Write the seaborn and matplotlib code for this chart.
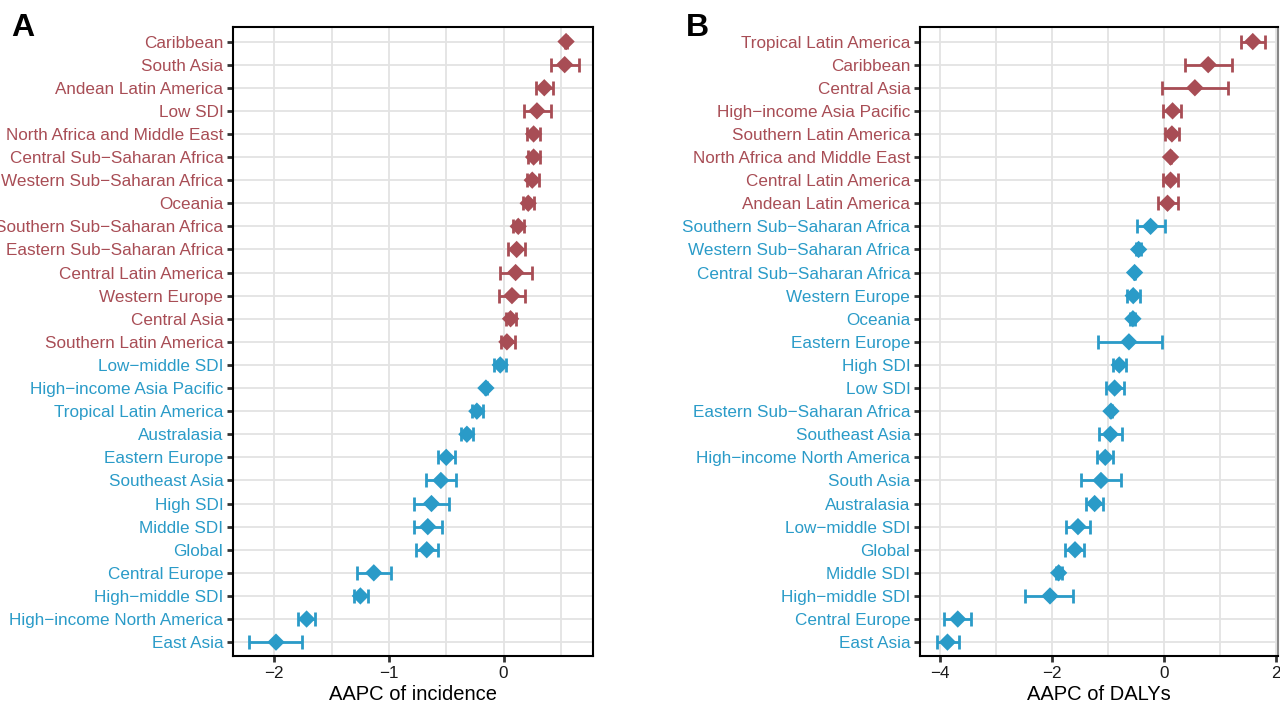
import numpy as np
import pandas as pd
import seaborn as sns
import matplotlib
matplotlib.use("Agg")
import matplotlib.pyplot as plt

# panel A: AAPC of incidence
inc_region = ["Caribbean", "South Asia", "Andean Latin America", "Low SDI",
              "North Africa and Middle East", "Central Sub\u2212Saharan Africa",
              "Western Sub\u2212Saharan Africa", "Oceania",
              "Southern Sub\u2212Saharan Africa", "Eastern Sub\u2212Saharan Africa",
              "Central Latin America", "Western Europe", "Central Asia",
              "Southern Latin America", "Low\u2212middle SDI",
              "High\u2212income Asia Pacific", "Tropical Latin America",
              "Australasia", "Eastern Europe", "Southeast Asia", "High SDI",
              "Middle SDI", "Global", "Central Europe", "High\u2212middle SDI",
              "High\u2212income North America", "East Asia"]
inc_val = [0.545, 0.533, 0.355, 0.291, 0.262, 0.262, 0.250, 0.215, 0.128, 0.114,
           0.105, 0.073, 0.061, 0.029, -0.029, -0.154, -0.233, -0.320, -0.500,
           -0.547, -0.629, -0.661, -0.670, -1.132, -1.249, -1.718, -1.985]
inc_lo = [0.538, 0.416, 0.285, 0.180, 0.207, 0.215, 0.204, 0.169, 0.082, 0.040,
          -0.030, -0.038, 0.017, -0.023, -0.080, -0.162, -0.277, -0.367, -0.570,
          -0.678, -0.780, -0.780, -0.766, -1.278, -1.304, -1.796, -2.221]
inc_hi = [0.552, 0.655, 0.431, 0.410, 0.320, 0.314, 0.306, 0.268, 0.180, 0.190,
          0.245, 0.190, 0.110, 0.096, 0.023, -0.146, -0.183, -0.268, -0.428,
          -0.416, -0.472, -0.541, -0.568, -0.984, -1.182, -1.642, -1.755]

# panel B: AAPC of DALYs
daly_region = ["Tropical Latin America", "Caribbean", "Central Asia",
               "High\u2212income Asia Pacific", "Southern Latin America",
               "North Africa and Middle East", "Central Latin America",
               "Andean Latin America", "Southern Sub\u2212Saharan Africa",
               "Western Sub\u2212Saharan Africa", "Central Sub\u2212Saharan Africa",
               "Western Europe", "Oceania", "Eastern Europe", "High SDI",
               "Low SDI", "Eastern Sub\u2212Saharan Africa", "Southeast Asia",
               "High\u2212income North America", "South Asia", "Australasia",
               "Low\u2212middle SDI", "Global", "Middle SDI", "High\u2212middle SDI",
               "Central Europe", "East Asia"]
daly_val = [1.589, 0.792, 0.554, 0.155, 0.143, 0.119, 0.119, 0.065, -0.238,
            -0.452, -0.524, -0.548, -0.554, -0.625, -0.798, -0.881, -0.946,
            -0.958, -1.048, -1.125, -1.238, -1.536, -1.589, -1.881, -2.036,
            -3.685, -3.869]
daly_lo = [1.381, 0.369, -0.030, -0.012, 0.024, 0.112, -0.012, -0.100, -0.476,
           -0.49, -0.531, -0.655, -0.60, -1.185, -0.905, -1.036, -0.97, -1.160,
           -1.190, -1.476, -1.393, -1.744, -1.768, -1.93, -2.476, -3.923, -4.065]
daly_hi = [1.810, 1.220, 1.149, 0.304, 0.262, 0.126, 0.244, 0.244, 0.018,
           -0.41, -0.517, -0.429, -0.51, -0.030, -0.679, -0.720, -0.92, -0.744,
           -0.917, -0.762, -1.083, -1.321, -1.429, -1.83, -1.619, -3.452, -3.655]

RED = "#A84D55"
BLUE = "#2A9BC8"
GRID = "#E3E3E3"

sns.set_theme(style="white")
plt.rcParams['font.family'] = ['Liberation Sans', 'DejaVu Sans']
plt.rcParams['axes.unicode_minus'] = True

fig = plt.figure(figsize=(12.8, 7.02), dpi=100)
W, H = 1280, 702


def forest(ax, region, val, lo, hi, xlim, grid_step, tick_step, xlabel):
    df = pd.DataFrame({'region': region, 'aapc': val, 'lo': lo, 'hi': hi})
    df['pos'] = np.arange(len(df))
    df['trend'] = np.where(df['aapc'] > 0, 'up', 'down')
    pal = {'up': RED, 'down': BLUE}

    # grid
    for g in np.arange(-10, 10 + grid_step, grid_step):
        if xlim[0] < g < xlim[1]:
            ax.axvline(g, color=GRID, lw=1.3, zorder=0)
    for p in df['pos']:
        ax.axhline(p, color=GRID, lw=1.3, zorder=0)

    # confidence intervals
    for tr, sub in df.groupby('trend'):
        ax.errorbar(sub['aapc'], sub['pos'],
                    xerr=[sub['aapc'] - sub['lo'], sub['hi'] - sub['aapc']],
                    fmt='none', ecolor=pal[tr], elinewidth=2.0,
                    capsize=4.8, capthick=2.0, zorder=2)
    sns.scatterplot(data=df, x='aapc', y='pos', hue='trend', palette=pal,
                    marker='D', s=78, linewidth=0, legend=False, ax=ax, zorder=3)

    ax.set_xlim(*xlim)
    ax.set_ylim(len(df) - 0.4, -0.63)
    ax.set_xticks(np.arange(np.ceil(xlim[0] / tick_step) * tick_step, xlim[1], tick_step))
    ax.xaxis.set_major_formatter(plt.FuncFormatter(lambda v, _: f"{v:g}".replace('-', '\u2212')))
    ax.set_yticks(df['pos'])
    ax.set_yticklabels(df['region'])
    for lab, tr in zip(ax.get_yticklabels(), df['trend']):
        lab.set_color(pal[tr])
    ax.tick_params(axis='both', which='major', length=4, width=2,
                   color='#333333', labelsize=12.3, pad=3, left=True, bottom=True)
    ax.tick_params(axis='x', labelcolor='#1a1a1a')
    for s in ax.spines.values():
        s.set_color('black')
        s.set_linewidth(1.5)
    ax.set_xlabel(xlabel, fontsize=14.5, labelpad=3, color='black')
    ax.set_ylabel('')


axA = fig.add_axes([233 / W, (H - 656) / H, 360 / W, 629 / H])
forest(axA, inc_region, inc_val, inc_lo, inc_hi, (-2.36, 0.78), 0.5, 1,
       "AAPC of incidence")
axB = fig.add_axes([920 / W, (H - 656) / H, 358 / W, 629 / H])
forest(axB, daly_region, daly_val, daly_lo, daly_hi, (-4.36, 2.04), 1, 2,
       "AAPC of DALYs")
axB.spines['right'].set_color('#888888')

fig.text(11 / W, 1 - 36 / H, "A", fontsize=23, fontweight='bold', color='black',
         va='baseline')
fig.text(686 / W, 1 - 36 / H, "B", fontsize=23, fontweight='bold', color='black',
         va='baseline')

fig.savefig("out.png", dpi=100)
